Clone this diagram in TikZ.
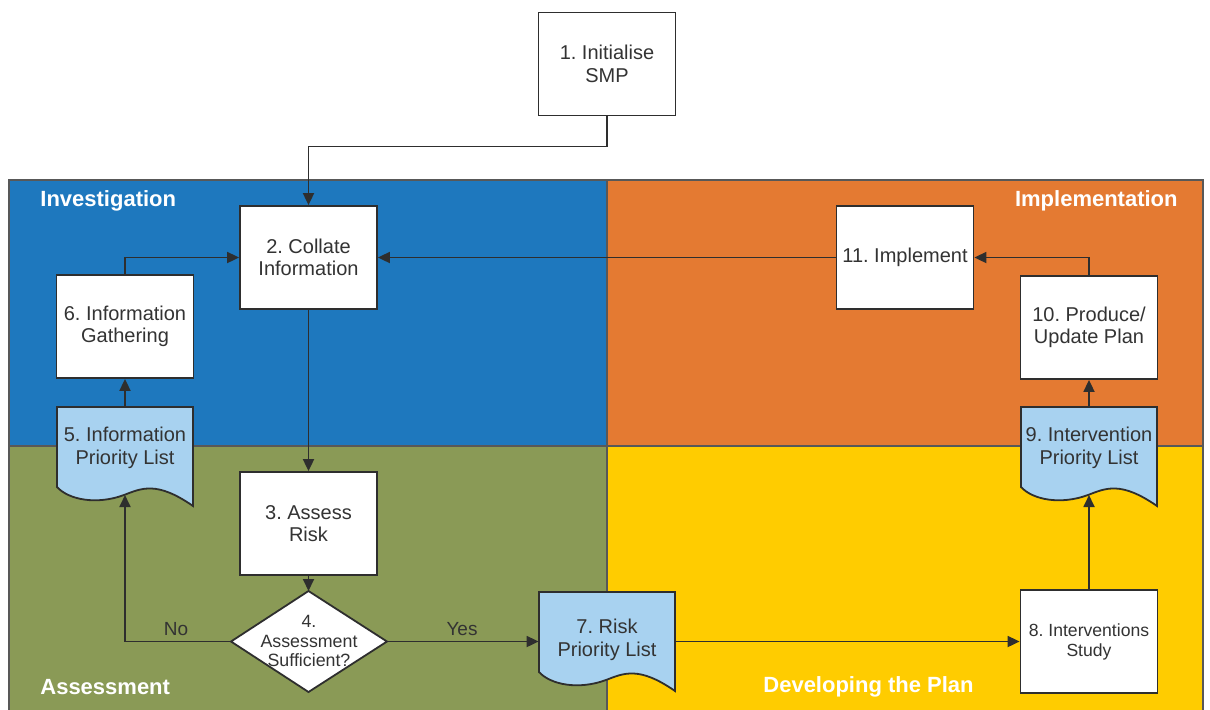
\documentclass[tikz,border=0pt]{standalone}
\usepackage{fontspec}
\setmainfont{Liberation Sans}
\usetikzlibrary{arrows.meta,calc}
\definecolor{qblue}{HTML}{1E78BE}
\definecolor{qorange}{HTML}{E47A32}
\definecolor{qgreen}{HTML}{8A9A56}
\definecolor{qyellow}{HTML}{FFCC00}
\definecolor{docblue}{HTML}{A8D2F0}
\definecolor{lineclr}{HTML}{2E2E2E}
\definecolor{txt}{HTML}{333333}
\frenchspacing
\newcommand\mydoc[2]{%
  \begin{scope}[shift={(#1,#2)}]
    \filldraw[docdraw] (0,0) -- (136,0) -- (136,99) .. controls (100,74) and (85,81) .. (67,88)
      .. controls (40,98) and (12,93) .. (0,80) -- cycle;
  \end{scope}}
\begin{document}
\begin{tikzpicture}[x=0.5pt,y=-0.5pt,
  quad/.style={draw=lineclr!80, line width=0.6pt},
  box/.style={draw=lineclr, line width=0.9pt, fill=white, minimum width=68.5pt, minimum height=51.5pt,
    inner sep=1pt, align=center, font=\fontsize{10}{11.3}\selectfont, text=txt},
  doctext/.style={minimum width=68pt, minimum height=40pt, inner sep=0pt, align=center,
    font=\fontsize{10}{11.3}\selectfont, text=txt},
  docdraw/.style={draw=lineclr, line width=0.9pt, fill=docblue},
  arr/.style={draw=lineclr, line width=0.9pt, -{Triangle[length=6pt,width=5.5pt]}},
  hdr/.style={text=white, font=\bfseries\fontsize{11}{13}\selectfont, inner sep=0pt},
  lbl/.style={text=txt, font=\fontsize{9.5}{11}\selectfont, inner sep=0pt}]
\useasboundingbox (0,0) rectangle (1210,709);
\fill[white] (0,0) rectangle (1210,709);
% quadrants
\filldraw[quad, fill=qblue] (9,180) rectangle (607,446);
\filldraw[quad, fill=qorange] (607,180) rectangle (1203,446);
\filldraw[quad, fill=qgreen] (9,446) rectangle (607,715);
\filldraw[quad, fill=qyellow] (607,446) rectangle (1203,715);
% headers
\node[hdr, anchor=west] (hinv) at (40,201) {Investigation};
\node[hdr, anchor=east] (himp) at (1178,201) {Implementation};
\node[hdr, anchor=west] (hass) at (40,687) {Assessment};
\node[hdr, anchor=west] (hdev) at (763,687) {Developing the Plan};
% boxes
\node[box] (n1) at (607,64) {1. Initialise\\SMP};
\node[box] (n2) at (308.5,257.5) {2. Collate\\Information};
\node[box] (n3) at (308.5,523.5) {3. Assess\\Risk};
\node[box] (n6) at (125,326.5) {6. Information\\Gathering};
\node[box] (n11) at (905,257.5) {11. Implement};
\node[box] (n10) at (1089,327.5) {10. Produce/\\Update Plan};
\node[box, font=\fontsize{8.8}{10}\selectfont] (n8) at (1089,641.5) {8. Interventions\\Study};
% documents
\mydoc{57}{407}
\mydoc{539}{592}
\mydoc{1021}{407}
\node[doctext] (n5) at (125,448) {5. Information\\Priority List};
\node[doctext, minimum height=48pt] (n7) at (607,640) {7. Risk\\Priority List};
\node[doctext] (n9) at (1089,448) {9. Intervention\\Priority List};
\coordinate (c5b) at (125,495);
\coordinate (c9b) at (1089,495);
% diamond
\coordinate (d4t) at (308.5,591);
\coordinate (d4b) at (308.5,692);
\coordinate (d4l) at (231,641.5);
\coordinate (d4r) at (387,641.5);
\filldraw[draw=lineclr, line width=0.9pt, fill=white] (d4t) -- (d4r) -- (d4b) -- (d4l) -- cycle;
\node[align=center, inner sep=0pt, text=txt, font=\fontsize{8.9}{9.7}\selectfont] (n4) at (309,641) {4.\\Assessment\\Sufficient?};
% connectors
\draw[arr] (n1.south) -- ++(0,30) -| (n2.north);
\draw[arr] (n6.north) |- (n2.west);
\draw[arr] (n11.west) -- (n2.east);
\draw[arr] (n10.north) |- (n11.east);
\draw[arr] (n2.south) -- (n3.north);
\draw[arr] (n3.south) -- (d4t);
\draw[arr] (d4r) -- (d4r -| n7.west);
\node[lbl] (yes) at (462,629) {Yes};
\draw[arr] (d4l) -| (c5b);
\node[lbl] (no) at (176,629) {No};
\draw[arr] (n5.north) -- (n6.south);
\draw[arr] (n8.west -| n7.east) -- (n8.west);
\draw[arr] (n8.north) -- (c9b);
\draw[arr] (n9.north) -- (n10.south);
\end{tikzpicture}
\end{document}
